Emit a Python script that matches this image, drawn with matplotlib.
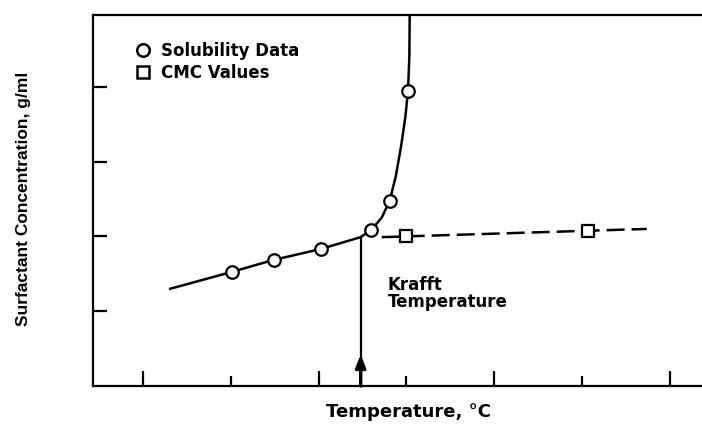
import matplotlib
matplotlib.use("Agg")
import matplotlib.pyplot as plt
from matplotlib.lines import Line2D

plt.rcParams['font.family'] = ['DejaVu Sans']
plt.rcParams['font.weight'] = 'bold'

# Measured solubility of the surfactant
sol_temp = [2.01, 2.49, 3.03, 3.60, 3.81, 4.02]
sol_conc = [1.525, 1.686, 1.833, 2.087, 2.475, 3.95]

# Critical micelle concentration values
cmc_temp = [4.00, 6.07]
cmc_conc = [2.007, 2.07]

# Solubility curve drawn through the data
curve_temp = [1.31, 2.01, 2.49, 3.03, 3.48, 3.60, 3.72, 3.81, 3.88, 3.94, 3.99, 4.02, 4.035, 4.04]
curve_conc = [1.30, 1.525, 1.686, 1.833, 1.99, 2.087, 2.25, 2.475, 2.80, 3.20, 3.60, 3.95, 4.40, 5.10]

# CMC trend line
cmc_line_temp = [3.72, 6.74]
cmc_line_conc = [1.99, 2.10]

# Krafft point
krafft_temp = 3.48
krafft_conc = 1.99

fig = plt.figure(figsize=(7.02, 4.28), dpi=100)
ax = fig.add_axes([93 / 702, 1 - 386 / 428, 1 - 93 / 702, (386 - 15) / 428])

ax.set_xlim(0.43, 7.37)
ax.set_ylim(0, 4.96)

ax.plot(curve_temp, curve_conc, color='black', lw=1.8, zorder=2)
ax.plot(cmc_line_temp, cmc_line_conc, color='black', lw=1.8, dashes=(7.2, 2.8), zorder=2)
ax.plot(sol_temp, sol_conc, 'o', ms=9, mfc='white', mec='black', mew=1.6, zorder=3)
ax.plot(cmc_temp, cmc_conc, 's', ms=8.5, mfc='white', mec='black', mew=1.6, zorder=3)

# Krafft temperature marker
ax.plot([krafft_temp, krafft_temp], [0, krafft_conc], color='black', lw=1.6, zorder=2)
ax.annotate('', xy=(krafft_temp, 0.42), xytext=(krafft_temp, 0.0),
            arrowprops=dict(arrowstyle='-|>,head_length=0.75,head_width=0.3',
                            color='black', lw=2.4, shrinkA=0, shrinkB=0))
ax.text(3.79, 1.47, 'Krafft\nTemperature', fontsize=12, fontweight='bold',
        va='top', ha='left', linespacing=0.92)

handles = [Line2D([], [], marker='o', ls='none', ms=9, mfc='white', mec='black', mew=1.8),
           Line2D([], [], marker='s', ls='none', ms=8.5, mfc='white', mec='black', mew=1.8)]
ax.legend(handles, ['Solubility Data', 'CMC Values'], loc='upper left',
          bbox_to_anchor=(0.063, 0.945), frameon=False, handlelength=0.6,
          handletextpad=0.8, labelspacing=0.22, borderaxespad=0,
          prop=dict(size=12, weight='bold'))

ax.set_xticks([1, 3, 5, 7])
ax.set_xticks([2, 4, 6], minor=True)
ax.set_yticks([1, 2, 3, 4])
ax.set_xticklabels([])
ax.set_yticklabels([])
ax.tick_params(axis='x', which='major', direction='in', length=11, width=1.6)
ax.tick_params(axis='x', which='minor', direction='in', length=7, width=1.6)
ax.tick_params(axis='y', direction='in', length=10, width=1.6)

for side in ['left', 'bottom', 'top']:
    ax.spines[side].set_linewidth(1.6)
ax.spines['right'].set_visible(False)

fig.text(409 / 702, 1 - 412 / 428, 'Temperature, \u00b0C', fontsize=13, fontweight='bold',
         ha='center', va='center')
fig.text(24 / 702, 1 - 199 / 428, 'Surfactant Concentration, g/ml', fontsize=12.5,
         fontweight='bold', family='Liberation Sans', ha='center', va='center', rotation=90)

fig.savefig('out.png', dpi=100)
